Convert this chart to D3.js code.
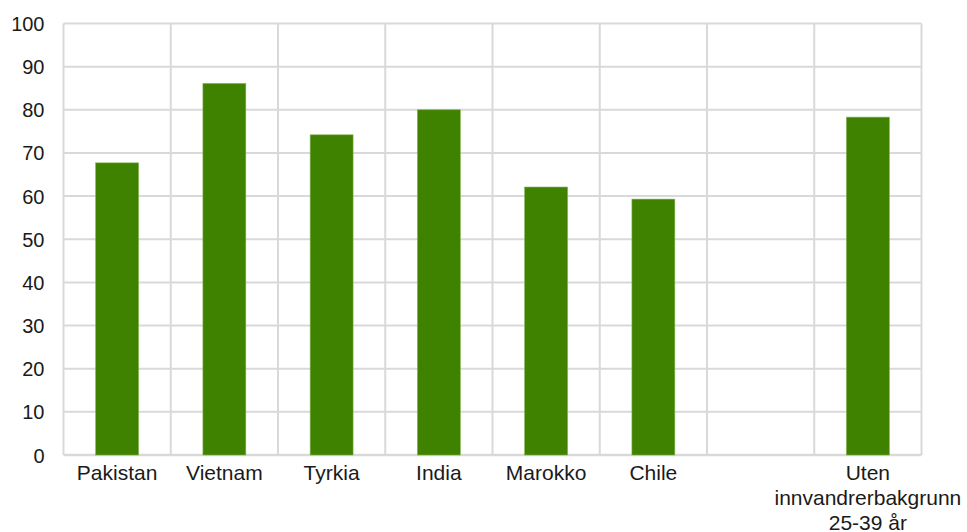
<!DOCTYPE html>
<html>
<head>
<meta charset="utf-8">
<script src="https://cdn.jsdelivr.net/npm/d3@7"></script>
<style>
  body { margin: 0; background: #fff; }
  svg { display: block; }
  text { font-family: "Liberation Sans", Arial, sans-serif; fill: #1a1a1a; }
</style>
</head>
<body>
<svg id="chart" width="967" height="532"></svg>
<script>
const categories = ["Pakistan", "Vietnam", "Tyrkia", "India", "Marokko", "Chile", "", "Uten\ninnvandrerbakgrunn\n25-39 år"];
const values = [67.7, 86.1, 74.2, 80.0, 62.1, 59.3, null, 78.3];
const yTicks = [0, 10, 20, 30, 40, 50, 60, 70, 80, 90, 100];

const svg = d3.select("#chart");
const margin = { left: 63.5, right: 967 - 921.5, top: 23.5, bottom: 532 - 455 };
const W = 967, H = 532;

const x = d3.scaleBand()
  .domain(categories.map((c, i) => i))
  .range([margin.left, W - margin.right])
  .paddingInner(0).paddingOuter(0);

const y = d3.scaleLinear().domain([0, 100]).range([H - margin.bottom, margin.top]);

const grid = svg.append("g");
grid.selectAll("line.h").data(yTicks).enter().append("line")
  .attr("x1", margin.left).attr("x2", W - margin.right)
  .attr("y1", d => y(d)).attr("y2", d => y(d))
  .attr("stroke", "#d9d9d9").attr("stroke-width", d => d === 0 ? 2.5 : 2);
const vlines = categories.map((c, i) => x(i)).concat([x(categories.length - 1) + x.bandwidth()]);
grid.selectAll("line.v").data(vlines).enter().append("line")
  .attr("x1", d => d).attr("x2", d => d)
  .attr("y1", y(100)).attr("y2", y(0))
  .attr("stroke", "#d9d9d9").attr("stroke-width", 2);

const bw = x.bandwidth() * 0.4;
svg.append("g").selectAll("rect").data(values.map((v, i) => ({ v, i })).filter(d => d.v != null))
  .enter().append("rect")
  .attr("x", d => x(d.i) + x.bandwidth() / 2 - bw / 2)
  .attr("width", bw)
  .attr("y", d => y(d.v))
  .attr("height", d => y(0) - y(d.v))
  .attr("fill", "#3f8200")
  .attr("stroke", "#7fb04a").attr("stroke-width", 0.6);

const yAxis = d3.axisLeft(y).tickValues(yTicks).tickSize(0).tickPadding(19);
const ya = svg.append("g").attr("transform", `translate(${margin.left},0)`).call(yAxis);
ya.select(".domain").remove();
ya.selectAll("text").style("font-size", "20px").style("font-family", "Liberation Sans, Arial, sans-serif").attr("fill", "#1a1a1a").attr("dy", "0.35em");

const xl = svg.append("g");
categories.forEach((c, i) => {
  const lines = c.split("\n");
  const t = xl.append("text")
    .attr("text-anchor", "middle")
    .attr("x", x(i) + x.bandwidth() / 2)
    .attr("y", 480)
    .style("font-size", "21px");
  lines.forEach((ln, j) => {
    t.append("tspan").attr("x", x(i) + x.bandwidth() / 2).attr("dy", j === 0 ? 0 : 25).text(ln);
  });
});
</script>
</body>
</html>
